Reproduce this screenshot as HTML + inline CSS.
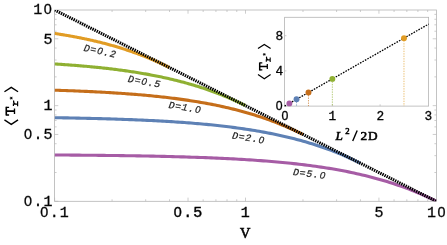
<!DOCTYPE html>
<html><head><meta charset="utf-8"><style>
html,body{margin:0;padding:0;background:#fff;}
svg{display:block;}
text{fill:#000;}
.tk{font-family:"Liberation Mono",monospace;stroke:#000;}
.z{font-family:"Liberation Sans",sans-serif;}
.zi{font-family:"Liberation Sans",sans-serif;font-style:italic;}
.cl{font-family:"Liberation Mono",monospace;font-style:italic;fill:#1a1a1a;stroke:#1a1a1a;stroke-width:0.2px;}
.sf{font-family:"Liberation Serif",serif;}
.sk{stroke:#000;stroke-width:0.58px;}
</style></head><body>
<svg width="447" height="245" viewBox="0 0 447 245">
<rect width="447" height="245" fill="#fff"/>

<defs><filter id="nf" filterUnits="userSpaceOnUse" x="0" y="0" width="447" height="245"><feOffset dx="0" dy="0"/></filter><clipPath id="c"><rect x="54.6" y="10.0" width="381.80" height="191.30"/></clipPath></defs>
<rect x="54.6" y="10.0" width="381.80" height="191.30" fill="none" stroke="#b4b4b4" stroke-width="0.8"/>
<path stroke="#b8b8b8" stroke-width="0.7" fill="none" d="M54.60,201.3 v-3.7 M54.60,10.0 v3.7 M54.6,201.30 h3.7 M436.4,201.30 h-3.7 M112.07,201.3 v-2.0 M112.07,10.0 v2.0 M54.6,172.51 h2.0 M436.4,172.51 h-2.0 M145.68,201.3 v-2.0 M145.68,10.0 v2.0 M54.6,155.66 h2.0 M436.4,155.66 h-2.0 M169.53,201.3 v-2.0 M169.53,10.0 v2.0 M54.6,143.71 h2.0 M436.4,143.71 h-2.0 M188.03,201.3 v-3.7 M188.03,10.0 v3.7 M54.6,134.44 h3.7 M436.4,134.44 h-3.7 M203.15,201.3 v-2.0 M203.15,10.0 v2.0 M54.6,126.87 h2.0 M436.4,126.87 h-2.0 M215.93,201.3 v-2.0 M215.93,10.0 v2.0 M54.6,120.47 h2.0 M436.4,120.47 h-2.0 M227.00,201.3 v-2.0 M227.00,10.0 v2.0 M54.6,114.92 h2.0 M436.4,114.92 h-2.0 M236.76,201.3 v-2.0 M236.76,10.0 v2.0 M54.6,110.03 h2.0 M436.4,110.03 h-2.0 M245.50,201.3 v-3.7 M245.50,10.0 v3.7 M54.6,105.65 h3.7 M436.4,105.65 h-3.7 M302.97,201.3 v-2.0 M302.97,10.0 v2.0 M54.6,76.86 h2.0 M436.4,76.86 h-2.0 M336.58,201.3 v-2.0 M336.58,10.0 v2.0 M54.6,60.01 h2.0 M436.4,60.01 h-2.0 M360.43,201.3 v-2.0 M360.43,10.0 v2.0 M54.6,48.06 h2.0 M436.4,48.06 h-2.0 M378.93,201.3 v-3.7 M378.93,10.0 v3.7 M54.6,38.79 h3.7 M436.4,38.79 h-3.7 M394.05,201.3 v-2.0 M394.05,10.0 v2.0 M54.6,31.22 h2.0 M436.4,31.22 h-2.0 M406.83,201.3 v-2.0 M406.83,10.0 v2.0 M54.6,24.82 h2.0 M436.4,24.82 h-2.0 M417.90,201.3 v-2.0 M417.90,10.0 v2.0 M54.6,19.27 h2.0 M436.4,19.27 h-2.0 M427.66,201.3 v-2.0 M427.66,10.0 v2.0 M54.6,14.38 h2.0 M436.4,14.38 h-2.0"/>
<g clip-path="url(#c)">
<path d="M54.60,33.45 L55.43,33.58 L56.25,33.70 L57.08,33.83 L57.91,33.96 L58.73,34.09 L59.56,34.22 L60.39,34.35 L61.21,34.48 L62.04,34.61 L62.87,34.75 L63.70,34.88 L64.52,35.02 L65.35,35.16 L66.18,35.30 L67.00,35.44 L67.83,35.58 L68.66,35.73 L69.48,35.87 L70.31,36.02 L71.14,36.17 L71.96,36.32 L72.79,36.47 L73.62,36.62 L74.44,36.78 L75.27,36.93 L76.10,37.09 L76.93,37.25 L77.75,37.41 L78.58,37.57 L79.41,37.73 L80.23,37.89 L81.06,38.06 L81.89,38.23 L82.71,38.40 L83.54,38.57 L84.37,38.74 L85.19,38.91 L86.02,39.09 L86.85,39.26 L87.67,39.44 L88.50,39.62 L89.33,39.80 L90.15,39.99 L90.98,40.17 L91.81,40.36 L92.64,40.55 L93.46,40.74 L94.29,40.93 L95.12,41.12 L95.94,41.32 L96.77,41.51 L97.60,41.71 L98.42,41.91 L99.25,42.12 L100.08,42.32 L100.90,42.53 L101.73,42.73 L102.56,42.94 L103.38,43.16 L104.21,43.37 L105.04,43.59 L105.87,43.80 L106.69,44.02 L107.52,44.24 L108.35,44.47 L109.17,44.69 L110.00,44.92 L110.83,45.15 L111.65,45.38 L112.48,45.62 L113.31,45.85 L114.13,46.09 L114.96,46.33 L115.79,46.57 L116.61,46.81 L117.44,47.06 L118.27,47.31 L119.09,47.56 L119.92,47.81 L120.75,48.07 L121.58,48.32 L122.40,48.58 L123.23,48.85 L124.06,49.11 L124.88,49.38 L125.71,49.64 L126.54,49.92 L127.36,50.19 L128.19,50.46 L129.02,50.74 L129.84,51.02 L130.67,51.31 L131.50,51.59 L132.32,51.88 L133.15,52.17 L133.98,52.46 L134.81,52.76 L135.63,53.05 L136.46,53.35 L137.29,53.66 L138.11,53.96 L138.94,54.27 L139.77,54.58 L140.59,54.89 L141.42,55.21 L142.25,55.52 L143.07,55.85 L143.90,56.17 L144.73,56.49 L145.55,56.82 L146.38,57.15 L147.21,57.49 L148.03,57.83 L148.86,58.16 L149.69,58.51 L150.52,58.85 L151.34,59.20 L152.17,59.55 L153.00,59.90 L153.82,60.26 L154.65,60.62 L155.48,60.98 L156.30,61.35 L157.13,61.71 L157.96,62.08 L158.78,62.46 L159.61,62.84 L160.44,63.21 L161.26,63.60 L162.09,63.98 L162.92,64.37 L163.75,64.76 L164.57,65.16 L165.40,65.55 L166.23,65.95 L167.05,66.36 L167.88,66.76 L168.71,67.17 L169.53,67.59" fill="none" stroke="#E19C24" stroke-width="3.1" stroke-linejoin="round"/>
<path d="M54.60,63.97 L55.97,64.06 L57.35,64.14 L58.72,64.23 L60.09,64.32 L61.47,64.41 L62.84,64.50 L64.21,64.60 L65.59,64.69 L66.96,64.79 L68.33,64.89 L69.71,64.99 L71.08,65.09 L72.45,65.19 L73.83,65.30 L75.20,65.41 L76.57,65.52 L77.95,65.63 L79.32,65.74 L80.69,65.85 L82.07,65.97 L83.44,66.09 L84.81,66.21 L86.19,66.33 L87.56,66.45 L88.93,66.58 L90.31,66.71 L91.68,66.84 L93.05,66.97 L94.43,67.10 L95.80,67.24 L97.17,67.38 L98.55,67.52 L99.92,67.66 L101.29,67.80 L102.67,67.95 L104.04,68.10 L105.42,68.25 L106.79,68.41 L108.16,68.57 L109.54,68.73 L110.91,68.89 L112.28,69.05 L113.66,69.22 L115.03,69.39 L116.40,69.56 L117.78,69.74 L119.15,69.92 L120.52,70.10 L121.90,70.28 L123.27,70.47 L124.64,70.66 L126.02,70.85 L127.39,71.05 L128.76,71.25 L130.14,71.45 L131.51,71.66 L132.88,71.87 L134.26,72.08 L135.63,72.29 L137.00,72.51 L138.38,72.74 L139.75,72.96 L141.12,73.19 L142.50,73.42 L143.87,73.66 L145.24,73.90 L146.62,74.14 L147.99,74.39 L149.36,74.64 L150.74,74.90 L152.11,75.16 L153.48,75.42 L154.86,75.69 L156.23,75.96 L157.60,76.24 L158.98,76.52 L160.35,76.80 L161.72,77.09 L163.10,77.39 L164.47,77.68 L165.84,77.99 L167.22,78.29 L168.59,78.61 L169.96,78.92 L171.34,79.24 L172.71,79.57 L174.08,79.90 L175.46,80.24 L176.83,80.58 L178.20,80.93 L179.58,81.28 L180.95,81.63 L182.32,82.00 L183.70,82.36 L185.07,82.74 L186.44,83.12 L187.82,83.50 L189.19,83.89 L190.56,84.29 L191.94,84.69 L193.31,85.09 L194.68,85.51 L196.06,85.93 L197.43,86.35 L198.81,86.78 L200.18,87.22 L201.55,87.67 L202.93,88.12 L204.30,88.57 L205.67,89.04 L207.05,89.51 L208.42,89.99 L209.79,90.47 L211.17,90.96 L212.54,91.46 L213.91,91.96 L215.29,92.47 L216.66,92.99 L218.03,93.52 L219.41,94.05 L220.78,94.59 L222.15,95.14 L223.53,95.69 L224.90,96.26 L226.27,96.83 L227.65,97.41 L229.02,97.99 L230.39,98.59 L231.77,99.19 L233.14,99.80 L234.51,100.41 L235.89,101.04 L237.26,101.67 L238.63,102.32 L240.01,102.97 L241.38,103.62 L242.75,104.29 L244.13,104.97 L245.50,105.65" fill="none" stroke="#8FB032" stroke-width="3.1" stroke-linejoin="round"/>
<path d="M54.60,90.20 L56.39,90.25 L58.17,90.31 L59.96,90.37 L61.75,90.43 L63.53,90.49 L65.32,90.55 L67.11,90.62 L68.89,90.68 L70.68,90.75 L72.47,90.82 L74.25,90.89 L76.04,90.96 L77.83,91.03 L79.62,91.10 L81.40,91.18 L83.19,91.26 L84.98,91.34 L86.76,91.42 L88.55,91.50 L90.34,91.58 L92.12,91.67 L93.91,91.76 L95.70,91.85 L97.48,91.94 L99.27,92.03 L101.06,92.13 L102.84,92.23 L104.63,92.32 L106.42,92.43 L108.20,92.53 L109.99,92.64 L111.78,92.75 L113.56,92.86 L115.35,92.97 L117.14,93.09 L118.93,93.20 L120.71,93.32 L122.50,93.45 L124.29,93.57 L126.07,93.70 L127.86,93.83 L129.65,93.97 L131.43,94.10 L133.22,94.24 L135.01,94.39 L136.79,94.53 L138.58,94.68 L140.37,94.83 L142.15,94.99 L143.94,95.15 L145.73,95.31 L147.51,95.47 L149.30,95.64 L151.09,95.82 L152.87,95.99 L154.66,96.17 L156.45,96.35 L158.23,96.54 L160.02,96.73 L161.81,96.93 L163.60,97.13 L165.38,97.33 L167.17,97.54 L168.96,97.75 L170.74,97.97 L172.53,98.19 L174.32,98.41 L176.10,98.64 L177.89,98.88 L179.68,99.12 L181.46,99.36 L183.25,99.61 L185.04,99.87 L186.82,100.13 L188.61,100.40 L190.40,100.67 L192.18,100.94 L193.97,101.23 L195.76,101.52 L197.54,101.81 L199.33,102.11 L201.12,102.42 L202.91,102.73 L204.69,103.05 L206.48,103.37 L208.27,103.71 L210.05,104.04 L211.84,104.39 L213.63,104.74 L215.41,105.10 L217.20,105.47 L218.99,105.84 L220.77,106.23 L222.56,106.61 L224.35,107.01 L226.13,107.42 L227.92,107.83 L229.71,108.25 L231.49,108.68 L233.28,109.12 L235.07,109.57 L236.85,110.02 L238.64,110.49 L240.43,110.96 L242.22,111.44 L244.00,111.93 L245.79,112.44 L247.58,112.95 L249.36,113.47 L251.15,114.00 L252.94,114.54 L254.72,115.09 L256.51,115.65 L258.30,116.23 L260.08,116.81 L261.87,117.40 L263.66,118.01 L265.44,118.63 L267.23,119.25 L269.02,119.89 L270.80,120.54 L272.59,121.21 L274.38,121.88 L276.16,122.57 L277.95,123.27 L279.74,123.98 L281.52,124.71 L283.31,125.44 L285.10,126.19 L286.89,126.96 L288.67,127.73 L290.46,128.52 L292.25,129.33 L294.03,130.15 L295.82,130.98 L297.61,131.82 L299.39,132.68 L301.18,133.56 L302.97,134.44" fill="none" stroke="#C56E1A" stroke-width="3.1" stroke-linejoin="round"/>
<path d="M54.60,117.70 L56.80,117.73 L59.00,117.77 L61.20,117.80 L63.40,117.84 L65.60,117.88 L67.80,117.92 L70.00,117.96 L72.20,118.00 L74.40,118.05 L76.60,118.09 L78.80,118.14 L81.00,118.18 L83.20,118.23 L85.40,118.28 L87.60,118.33 L89.80,118.38 L92.00,118.43 L94.20,118.49 L96.40,118.54 L98.60,118.60 L100.81,118.66 L103.01,118.72 L105.21,118.78 L107.41,118.85 L109.61,118.91 L111.81,118.98 L114.01,119.05 L116.21,119.12 L118.41,119.19 L120.61,119.27 L122.81,119.35 L125.01,119.43 L127.21,119.51 L129.41,119.59 L131.61,119.67 L133.81,119.76 L136.01,119.85 L138.21,119.94 L140.41,120.04 L142.61,120.14 L144.81,120.24 L147.01,120.34 L149.21,120.44 L151.41,120.55 L153.61,120.66 L155.81,120.78 L158.01,120.89 L160.21,121.01 L162.41,121.14 L164.61,121.26 L166.81,121.39 L169.01,121.53 L171.21,121.66 L173.41,121.80 L175.61,121.95 L177.81,122.09 L180.01,122.24 L182.21,122.40 L184.41,122.56 L186.61,122.72 L188.81,122.89 L191.01,123.06 L193.22,123.24 L195.42,123.42 L197.62,123.61 L199.82,123.80 L202.02,124.00 L204.22,124.20 L206.42,124.40 L208.62,124.62 L210.82,124.83 L213.02,125.06 L215.22,125.28 L217.42,125.52 L219.62,125.76 L221.82,126.01 L224.02,126.26 L226.22,126.52 L228.42,126.79 L230.62,127.06 L232.82,127.34 L235.02,127.63 L237.22,127.92 L239.42,128.23 L241.62,128.54 L243.82,128.85 L246.02,129.18 L248.22,129.52 L250.42,129.86 L252.62,130.21 L254.82,130.57 L257.02,130.94 L259.22,131.32 L261.42,131.71 L263.62,132.11 L265.82,132.52 L268.02,132.93 L270.22,133.36 L272.42,133.80 L274.62,134.25 L276.82,134.72 L279.02,135.19 L281.22,135.67 L283.42,136.17 L285.63,136.68 L287.83,137.20 L290.03,137.74 L292.23,138.28 L294.43,138.84 L296.63,139.42 L298.83,140.00 L301.03,140.61 L303.23,141.22 L305.43,141.85 L307.63,142.50 L309.83,143.16 L312.03,143.84 L314.23,144.53 L316.43,145.24 L318.63,145.96 L320.83,146.70 L323.03,147.46 L325.23,148.24 L327.43,149.03 L329.63,149.84 L331.83,150.67 L334.03,151.52 L336.23,152.38 L338.43,153.27 L340.63,154.17 L342.83,155.10 L345.03,156.04 L347.23,157.01 L349.43,157.99 L351.63,159.00 L353.83,160.03 L356.03,161.08 L358.23,162.15 L360.43,163.24" fill="none" stroke="#5E81B5" stroke-width="3.1" stroke-linejoin="round"/>
<path d="M54.60,154.98 L57.35,155.00 L60.09,155.02 L62.84,155.03 L65.59,155.05 L68.33,155.07 L71.08,155.09 L73.83,155.12 L76.57,155.14 L79.32,155.16 L82.07,155.18 L84.81,155.21 L87.56,155.23 L90.31,155.26 L93.05,155.29 L95.80,155.31 L98.55,155.34 L101.29,155.37 L104.04,155.40 L106.79,155.44 L109.54,155.47 L112.28,155.50 L115.03,155.54 L117.78,155.57 L120.52,155.61 L123.27,155.65 L126.02,155.69 L128.76,155.73 L131.51,155.77 L134.26,155.82 L137.00,155.86 L139.75,155.91 L142.50,155.96 L145.24,156.01 L147.99,156.06 L150.74,156.12 L153.48,156.17 L156.23,156.23 L158.98,156.29 L161.72,156.35 L164.47,156.41 L167.22,156.48 L169.96,156.55 L172.71,156.62 L175.46,156.69 L178.20,156.76 L180.95,156.84 L183.70,156.92 L186.44,157.00 L189.19,157.09 L191.94,157.18 L194.68,157.27 L197.43,157.36 L200.18,157.46 L202.93,157.56 L205.67,157.66 L208.42,157.77 L211.17,157.88 L213.91,158.00 L216.66,158.11 L219.41,158.24 L222.15,158.36 L224.90,158.49 L227.65,158.63 L230.39,158.77 L233.14,158.91 L235.89,159.06 L238.63,159.21 L241.38,159.37 L244.13,159.54 L246.87,159.71 L249.62,159.88 L252.37,160.06 L255.11,160.25 L257.86,160.44 L260.61,160.64 L263.35,160.84 L266.10,161.06 L268.85,161.28 L271.59,161.50 L274.34,161.74 L277.09,161.98 L279.83,162.23 L282.58,162.49 L285.33,162.75 L288.07,163.03 L290.82,163.31 L293.57,163.60 L296.32,163.90 L299.06,164.22 L301.81,164.54 L304.56,164.87 L307.30,165.21 L310.05,165.57 L312.80,165.93 L315.54,166.31 L318.29,166.70 L321.04,167.10 L323.78,167.52 L326.53,167.94 L329.28,168.39 L332.02,168.84 L334.77,169.31 L337.52,169.79 L340.26,170.29 L343.01,170.81 L345.76,171.34 L348.50,171.89 L351.25,172.45 L354.00,173.04 L356.74,173.64 L359.49,174.26 L362.24,174.89 L364.98,175.55 L367.73,176.23 L370.48,176.93 L373.22,177.65 L375.97,178.39 L378.72,179.15 L381.46,179.94 L384.21,180.74 L386.96,181.58 L389.71,182.43 L392.45,183.32 L395.20,184.22 L397.95,185.16 L400.69,186.12 L403.44,187.11 L406.19,188.12 L408.93,189.17 L411.68,190.24 L414.43,191.34 L417.17,192.48 L419.92,193.64 L422.67,194.84 L425.41,196.06 L428.16,197.32 L430.91,198.62 L433.65,199.94 L436.40,201.30" fill="none" stroke="#A65CA5" stroke-width="3.1" stroke-linejoin="round"/>
<line x1="54.6" y1="10.0" x2="436.4" y2="201.3" stroke="#000" stroke-width="3.1" stroke-dasharray="1.45 0.9"/>
</g>
<rect x="284.6" y="17.3" width="144.00" height="88.80" fill="#fff" stroke="#b4b4b4" stroke-width="0.8"/>
<path d="M332.35,106.1 v-1.8 M380.10,106.1 v-1.8 M284.6,70.90 h1.8 M284.6,35.70 h1.8" stroke="#b8b8b8" stroke-width="0.7" fill="none"/>
<line x1="284.6" y1="106.1" x2="428.6" y2="24.14" stroke="#000" stroke-width="1.3" stroke-dasharray="1.6 1.2"/>
<line x1="403.98" y1="38.16" x2="403.98" y2="106.1" stroke="#E19C24" stroke-width="0.75" stroke-opacity="0.85" stroke-dasharray="1.4 1.1"/>
<line x1="332.35" y1="78.92" x2="332.35" y2="106.1" stroke="#8FB032" stroke-width="0.75" stroke-opacity="0.85" stroke-dasharray="1.4 1.1"/>
<line x1="308.48" y1="92.51" x2="308.48" y2="106.1" stroke="#C56E1A" stroke-width="0.75" stroke-opacity="0.85" stroke-dasharray="1.4 1.1"/>
<line x1="296.54" y1="99.31" x2="296.54" y2="106.1" stroke="#5E81B5" stroke-width="0.75" stroke-opacity="0.85" stroke-dasharray="1.4 1.1"/>
<line x1="289.38" y1="103.38" x2="289.38" y2="106.1" stroke="#A65CA5" stroke-width="0.75" stroke-opacity="0.85" stroke-dasharray="1.4 1.1"/>
<circle cx="403.98" cy="38.16" r="2.95" fill="#E19C24"/>
<circle cx="332.35" cy="78.92" r="2.95" fill="#8FB032"/>
<circle cx="308.48" cy="92.51" r="2.95" fill="#C56E1A"/>
<circle cx="296.54" cy="99.31" r="2.95" fill="#5E81B5"/>
<circle cx="289.38" cy="103.38" r="2.95" fill="#A65CA5"/>
<g filter="url(#nf)" transform="rotate(0.012 223 122)">
<text class="cl" transform="translate(100.15,51.05) rotate(12.5)" x="-16.47 -9.82 -2.88 3.48 10.13" y="3.25" font-size="9.9">D=<tspan class="zi" font-size="9.49">0</tspan>.2</text>
<text class="cl" transform="translate(144.4,81.55) rotate(10.5)" x="-16.47 -9.82 -2.88 3.48 10.13" y="3.25" font-size="9.9">D=<tspan class="zi" font-size="9.49">0</tspan>.5</text>
<text class="cl" transform="translate(184.9,107.4) rotate(9)" x="-16.47 -9.82 -3.17 3.48 10.42" y="3.25" font-size="9.9">D=1.<tspan class="zi" font-size="9.49">0</tspan></text>
<text class="cl" transform="translate(248.5,137.8) rotate(9)" x="-16.47 -9.82 -3.17 3.48 10.42" y="3.25" font-size="9.9">D=2.<tspan class="zi" font-size="9.49">0</tspan></text>
<text class="cl" transform="translate(309.5,173.7) rotate(7)" x="-16.47 -9.82 -3.17 3.48 10.42" y="3.25" font-size="9.9">D=5.<tspan class="zi" font-size="9.49">0</tspan></text>
<text class="tk" x="33.17 43.72" y="14.4" font-size="15.0" stroke-width="0.3">1<tspan class="z" font-size="14.38">0</tspan></text>
<text class="tk" x="43.53" y="43.6" font-size="15.0" stroke-width="0.3">5</text>
<text class="tk" x="43.53" y="110.3" font-size="15.0" stroke-width="0.3">1</text>
<text class="tk" x="23.92 33.48 43.53" y="139.3" font-size="15.0" stroke-width="0.3"><tspan class="z" font-size="14.38">0</tspan>.5</text>
<text class="tk" x="23.92 33.48 43.53" y="205.8" font-size="15.0" stroke-width="0.3"><tspan class="z" font-size="14.38">0</tspan>.1</text>
<text class="tk" x="40.25 49.80 59.85" y="217.0" font-size="15.0" stroke-width="0.3"><tspan class="z" font-size="14.38">0</tspan>.1</text>
<text class="tk" x="173.75 183.30 193.35" y="217.0" font-size="15.0" stroke-width="0.42"><tspan class="z" font-size="14.38">0</tspan>.5</text>
<text class="tk" x="240.70" y="217.0" font-size="15.0" stroke-width="0.42">1</text>
<text class="tk" x="374.40" y="217.0" font-size="15.0" stroke-width="0.3">5</text>
<text class="tk" x="426.88 437.42" y="217.0" font-size="15.0" stroke-width="0.3">1<tspan class="z" font-size="14.38">0</tspan></text>
<text class="tk" x="281.48" y="120.0" font-size="12.8" stroke-width="0.3"><tspan class="z" font-size="12.27">0</tspan></text>
<text class="tk" x="328.56" y="120.0" font-size="12.8" stroke-width="0.3">1</text>
<text class="tk" x="376.46" y="120.0" font-size="12.8" stroke-width="0.3">2</text>
<text class="tk" x="424.46" y="120.0" font-size="12.8" stroke-width="0.3">3</text>
<text class="tk" x="275.85" y="109.9" font-size="12.8" stroke-width="0.3"><tspan class="z" font-size="12.27">0</tspan></text>
<text class="tk" x="275.62" y="75.2" font-size="12.8" stroke-width="0.3">4</text>
<text class="tk" x="275.42" y="39.5" font-size="12.8" stroke-width="0.3">8</text>
<text class="sf sk" font-size="14.4" x="240.1" y="238.3">V</text>
<text class="sf sk" font-size="13.3" y="139.8" x="335.6 345.2 352.3 360.6 367.9"><tspan font-style="italic">L</tspan><tspan font-size="8.6" dy="-5.6">2</tspan><tspan dy="5.6" style="fill:none;stroke:none">/</tspan>2D</text>
</g>
<!-- inset x label slash -->
<path d="M352.7,141 L357.2,130.4" stroke="#000" stroke-width="1.4" fill="none"/>
<!-- y labels -->
<g transform="translate(11.25,124.9) rotate(-90) scale(1.08)" fill="none" stroke="#000">
<path d="M4.6,-6.3 L0.5,0 L4.6,6.3 M30.7,-6.3 L34.8,0 L30.7,6.3" stroke-width="1.25" stroke-linejoin="miter"/>
<path d="M8.6,-4.6 H16.8 M12.7,-4.6 V3.0" stroke-width="1.5"/>
<path d="M9.2,-4.6 V-2.0 M16.2,-4.6 V-2.0 M10.2,3.0 H15.2" stroke-width="1.25"/>
<path d="M17.3,5.9 H21.8 M17.5,2.0 H19.3 M19.3,1.45 V5.9 M19.3,3.9 Q20.2,1.6 22.6,2.3" stroke-width="1.1"/>
<path d="M24.8,-1.4 v2.8 M23.6,-0.7 l2.4,1.4 M23.6,0.7 l2.4,-1.4" stroke-width="0.8"/>
<text class="sf" x="2" y="3.6" font-size="13" style="fill:none;stroke:none">&#x27E8;T<tspan font-size="9">r*</tspan>&#x27E9;</text>
</g>
<g transform="translate(264.3,79.2) rotate(-90) scale(1.0)" fill="none" stroke="#000">
<path d="M4.6,-6.3 L0.5,0 L4.6,6.3 M30.7,-6.3 L34.8,0 L30.7,6.3" stroke-width="1.25" stroke-linejoin="miter"/>
<path d="M8.6,-4.6 H16.8 M12.7,-4.6 V3.0" stroke-width="1.5"/>
<path d="M9.2,-4.6 V-2.0 M16.2,-4.6 V-2.0 M10.2,3.0 H15.2" stroke-width="1.25"/>
<path d="M17.3,5.9 H21.8 M17.5,2.0 H19.3 M19.3,1.45 V5.9 M19.3,3.9 Q20.2,1.6 22.6,2.3" stroke-width="1.1"/>
<path d="M24.8,-1.4 v2.8 M23.6,-0.7 l2.4,1.4 M23.6,0.7 l2.4,-1.4" stroke-width="0.8"/>
<text class="sf" x="2" y="3.6" font-size="13" style="fill:none;stroke:none">&#x27E8;T<tspan font-size="9">r*</tspan>&#x27E9;</text>
</g>
</svg>
</body></html>
